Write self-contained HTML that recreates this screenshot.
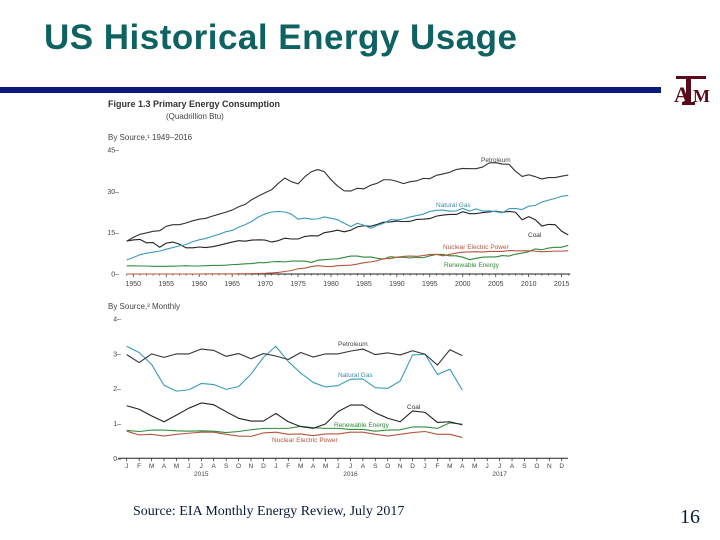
<!DOCTYPE html>
<html><head><meta charset="utf-8"><style>
html,body{margin:0;padding:0;background:#fff}
svg{display:block}
</style></head><body>
<svg id="s" width="720" height="540" viewBox="0 0 720 540" xmlns="http://www.w3.org/2000/svg">
<text x="44" y="49" font-family="Liberation Sans, sans-serif" font-weight="bold" font-size="35" fill="#0E6262" textLength="473">US Historical Energy Usage</text>
<rect x="0" y="87" width="661" height="6" fill="#0A1A7A"/>
<g font-family="Liberation Serif, serif" font-weight="bold" fill="#5A0A1A">
<text x="674" y="102" font-size="22">A</text><text x="693" y="102" font-size="18">M</text>
<rect x="676" y="76" width="30" height="3" fill="#5A0A1A"/><rect x="686" y="76" width="5" height="29" fill="#5A0A1A"/><rect x="682" y="102" width="13" height="3" fill="#5A0A1A"/>
</g>
<g id="topc" font-family="Liberation Sans, sans-serif">
<text x="108" y="107" font-size="9" font-weight="bold" fill="#333">Figure 1.3   Primary Energy Consumption</text>
<text x="166" y="119" font-size="8" fill="#444">(Quadrillion Btu)</text>
<text x="108" y="140" font-size="8" fill="#444">By Source,¹ 1949–2016</text>
</g>
<g id="botc" font-family="Liberation Sans, sans-serif">
<text x="108" y="309" font-size="8" fill="#444">By Source,² Monthly</text>
</g>
<text x="133" y="515" font-family="Liberation Serif, serif" font-size="14" fill="#0A1A3A">Source: EIA Monthly Energy Review, July 2017</text>
<text x="680" y="523" font-family="Liberation Serif, serif" font-size="20" fill="#0A1A3A">16</text>
</svg>
<script>
const years=[];for(let y=1949;y<=2016;y++)years.push(y);
const petroleum=[11.9,13.3,14.4,14.9,15.5,15.7,17.3,17.9,17.9,18.5,19.3,19.9,20.2,21.0,21.7,22.4,23.2,24.4,25.3,27.0,28.3,29.5,30.6,32.9,34.8,33.5,32.7,35.2,37.1,37.9,37.1,34.2,31.9,30.2,30.1,31.1,30.9,32.2,32.9,34.2,34.2,33.6,32.8,33.5,33.8,34.7,34.6,35.8,36.3,36.9,37.9,38.3,38.2,38.2,38.8,40.3,40.4,39.9,39.8,37.3,35.4,36.0,35.3,34.5,35.0,35.0,35.5,35.9];
const naturalGas=[5.1,6.0,7.0,7.55,7.9,8.3,9.0,9.6,10.2,10.7,11.7,12.4,12.9,13.7,14.4,15.3,15.8,17.0,17.9,19.1,20.7,21.8,22.5,22.7,22.5,21.7,19.9,20.3,19.9,20.0,20.7,20.2,19.7,18.4,17.2,18.4,17.7,16.6,17.6,18.4,19.7,19.6,20.0,20.7,21.2,21.7,22.7,23.1,23.2,22.8,22.9,23.8,22.8,23.6,22.9,22.9,22.6,22.2,23.7,23.8,23.4,24.6,24.9,26.1,26.8,27.4,28.2,28.5];
const coal=[12.0,12.35,12.55,11.3,11.4,9.7,11.2,11.6,10.8,9.5,9.5,9.8,9.6,9.9,10.4,11.0,11.6,12.1,11.9,12.3,12.4,12.3,11.6,12.1,13.0,12.7,12.7,13.6,13.9,13.8,15.0,15.4,15.9,15.3,15.9,17.1,17.5,17.3,18.0,18.8,18.9,19.2,19.0,19.1,19.8,19.9,20.1,21.0,21.4,21.6,21.6,22.6,21.9,21.9,22.3,22.5,22.8,22.4,22.7,22.4,19.7,20.8,19.7,17.4,18.0,17.9,15.5,14.2];
const nuclear=[0,0,0,0,0,0,0,0,0,0,0,0,0.02,0.03,0.03,0.04,0.04,0.06,0.09,0.14,0.15,0.24,0.41,0.58,0.91,1.27,1.9,2.1,2.7,3.0,2.8,2.7,3.0,3.1,3.2,3.6,4.1,4.4,4.8,5.6,5.6,6.1,6.4,6.5,6.4,6.7,7.1,7.1,6.6,7.1,7.6,7.9,8.0,8.1,7.96,8.2,8.2,8.2,8.5,8.4,8.4,8.4,8.3,8.1,8.2,8.3,8.3,8.4];
const renewable=[2.97,2.98,2.9,2.9,2.8,2.8,2.78,2.85,2.9,3.0,2.9,2.9,3.0,3.1,3.1,3.2,3.4,3.5,3.7,3.8,4.1,4.1,4.4,4.5,4.4,4.7,4.7,4.7,4.2,5.0,5.2,5.4,5.5,6.0,6.5,6.5,6.1,6.2,5.7,5.4,6.3,6.0,6.1,5.8,6.1,5.9,6.6,7.1,7.1,6.6,6.6,6.1,5.2,5.7,6.1,6.2,6.2,6.7,6.5,7.2,7.6,8.1,9.1,8.8,9.4,9.7,9.7,10.4];
const yTicksTop=[0,15,30,45];
const xTicksTop=[1950,1955,1960,1965,1970,1975,1980,1985,1990,1995,2000,2005,2010,2015];
const months=['J','F','M','A','M','J','J','A','S','O','N','D','J','F','M','A','M','J','J','A','S','O','N','D','J','F','M','A','M','J','J','A','S','O','N','D'];
const yearLabels=['2015','2016','2017'];
const mPetroleum=[2.98,2.75,3.0,2.9,3.0,3.0,3.14,3.1,2.93,3.01,2.86,3.01,2.94,2.84,3.04,2.91,3.0,3.0,3.08,3.14,2.98,3.03,2.97,3.09,2.99,2.68,3.12,2.95];
const mNaturalGas=[3.22,3.04,2.7,2.1,1.93,1.97,2.15,2.12,1.98,2.06,2.42,2.9,3.22,2.78,2.45,2.18,2.05,2.09,2.27,2.28,2.03,2.01,2.22,2.97,2.99,2.41,2.56,1.96];
const mCoal=[1.51,1.41,1.22,1.05,1.24,1.44,1.59,1.54,1.34,1.15,1.07,1.07,1.29,1.05,0.91,0.86,0.99,1.34,1.53,1.53,1.31,1.15,1.05,1.36,1.32,1.03,1.05,0.96];
const mRenewable=[0.80,0.77,0.81,0.81,0.79,0.78,0.79,0.78,0.74,0.77,0.82,0.86,0.86,0.86,0.92,0.88,0.86,0.86,0.83,0.83,0.78,0.81,0.82,0.90,0.90,0.86,1.02,0.98];
const mNuclear=[0.78,0.67,0.69,0.64,0.69,0.72,0.75,0.75,0.69,0.64,0.63,0.73,0.75,0.69,0.70,0.65,0.70,0.70,0.75,0.75,0.69,0.64,0.69,0.74,0.77,0.69,0.69,0.60];
const yTicksBot=[0,1,2,3,4];

const NS='http://www.w3.org/2000/svg';
function mk(parent,tag,attrs,txt){const e=document.createElementNS(NS,tag);for(const k in attrs)e.setAttribute(k,attrs[k]);if(txt!==undefined)e.textContent=txt;parent.appendChild(e);return e;}
const topG=document.getElementById('topc'),botG=document.getElementById('botc');
const tx=y=>133.3+(y-1950)*6.59, ty=v=>274-v*2.756;
let ax=mk(topG,'line',{x1:tx(1949),x2:tx(2016.3),y1:ty(0),y2:ty(0),stroke:'#222','stroke-width':1});


for(let y=1949;y<=2016;y++){const t=mk(topG,'line',{x1:tx(y),x2:tx(y),y1:ty(0),y2:ty(0)+(y%5===0?3:1.5),stroke:'#222','stroke-width':0.7});

}
xTicksTop.forEach(y=>{const t=mk(topG,'text',{x:tx(y),y:286,'font-size':7,fill:'#444','text-anchor':'middle'},y);

});
yTicksTop.forEach(v=>{const t=mk(topG,'text',{x:119,y:ty(v)+2.5,'font-size':7,fill:'#444','text-anchor':'end'},v+'–');

});
function line(g,xs,vals,fx,fy,col,name){const p=mk(g,'polyline',{points:vals.map((v,i)=>fx(xs[i])+','+fy(v)).join(' '),fill:'none',stroke:col,'stroke-width':1.1,'stroke-linejoin':'round'});

}
line(topG,years,renewable,tx,ty,'#2E8B3A','line-renewable');
line(topG,years,nuclear,tx,ty,'#B5553A','line-nuclear');
line(topG,years,coal,tx,ty,'#222','line-coal');
line(topG,years,naturalGas,tx,ty,'#3A9AC0','line-natural-gas');
line(topG,years,petroleum,tx,ty,'#333','line-petroleum');
[['Petroleum',481,162,'#444'],['Natural Gas',436,207,'#3A8AB0'],['Coal',528,237,'#333'],['Nuclear Electric Power',443,249,'#B5553A'],['Renewable Energy',444,267,'#2E8B3A']].forEach(a=>{const t=mk(topG,'text',{x:a[1],y:a[2],'font-size':6.5,fill:a[3]},a[0]);

});
const bx=i=>126.7+i*12.43, by=v=>458.3-v*34.8;
const idx=mPetroleum.map((_,i)=>i);
ax=mk(botG,'line',{x1:bx(-0.7),x2:bx(35.5),y1:by(0),y2:by(0),stroke:'#222','stroke-width':1});


months.forEach((m,i)=>{const t=mk(botG,'line',{x1:bx(i),x2:bx(i),y1:by(0),y2:by(0)+3,stroke:'#222','stroke-width':0.7});


const l=mk(botG,'text',{x:bx(i),y:468,'font-size':6.5,fill:'#444','text-anchor':'middle'},m);

});
yearLabels.forEach((y,k)=>{const t=mk(botG,'text',{x:bx(k*12+6),y:476,'font-size':6.5,fill:'#444','text-anchor':'middle'},y);

});
yTicksBot.forEach(v=>{const t=mk(botG,'text',{x:121,y:by(v)+2.5,'font-size':7,fill:'#444','text-anchor':'end'},v+'–');

});
line(botG,idx,mNuclear,bx,by,'#B5553A','monthly-line-nuclear');
line(botG,idx,mRenewable,bx,by,'#2E8B3A','monthly-line-renewable');
line(botG,idx,mCoal,bx,by,'#222','monthly-line-coal');
line(botG,idx,mNaturalGas,bx,by,'#3A9AC0','monthly-line-natural-gas');
line(botG,idx,mPetroleum,bx,by,'#333','monthly-line-petroleum');
[['Petroleum',338,346,'#444'],['Natural Gas',338,377,'#3A8AB0'],['Coal',407,409,'#333'],['Renewable Energy',334,427,'#2E8B3A'],['Nuclear Electric Power',272,442,'#B5553A']].forEach(a=>{const t=mk(botG,'text',{x:a[1],y:a[2],'font-size':6.5,fill:a[3]},a[0]);

});
</script>
</body></html>
